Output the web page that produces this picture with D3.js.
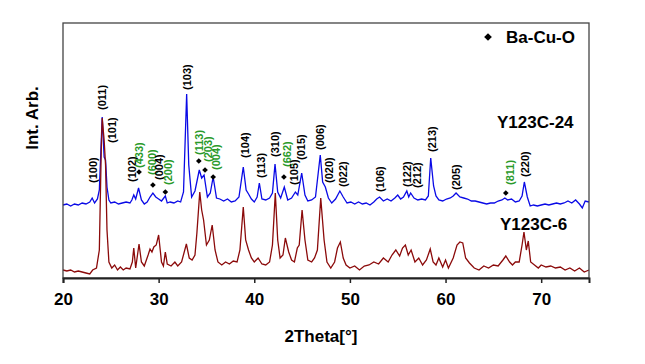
<!DOCTYPE html>
<html>
<head>
<meta charset="utf-8">
<script src="https://cdn.jsdelivr.net/npm/d3@7"></script>
<style>
  body { margin: 0; background: #fff; }
  text { font-family: Arial, "Liberation Sans", sans-serif; }
</style>
</head>
<body>
<script>
// digitized patterns: [2theta, intensity (arb.)]
var y123c24 = [
  [20.0,73],[20.4,74],[20.8,72],[21.2,74],[21.6,73],[22.0,75],[22.4,74],[22.8,76],[23.05,80],[23.3,75],
  [23.6,79],[23.8,88],[24.1,161],[24.3,121],[24.45,118],[24.6,91],[24.8,78],[25.0,75],[25.4,76],[25.8,74],
  [26.2,75],[26.6,76],[27.0,75],[27.2,78],[27.4,83],[27.6,79],[27.9,90],[28.2,78],[28.5,74],[28.8,76],
  [29.1,81],[29.4,85],[29.7,81],[30.0,79],[30.3,77],[30.7,82],[30.9,75],[31.2,76],[31.6,75],[32.0,77],
  [32.3,76],[32.6,86],[32.93,184],[33.15,113],[33.45,81],[33.8,87],[34.25,108],[34.5,100],[34.75,103],[35.1,81],
  [35.4,85],[35.7,101],[36.05,80],[36.4,79],[36.8,77],[37.2,79],[37.6,76],[38.0,77],[38.4,81],[38.85,111],
  [39.15,88],[39.4,84],[39.7,79],[40.0,76],[40.3,81],[40.53,95],[40.8,79],[41.2,78],[41.6,80],[41.9,85],
  [42.17,114],[42.45,86],[42.76,80],[43.14,91],[43.5,78],[43.9,80],[44.3,86],[44.55,83],[44.96,105],[45.3,83],
  [45.6,77],[46.0,78],[46.4,81],[46.9,123],[47.15,96],[47.43,91],[47.75,80],[48.1,75],[48.5,79],[48.95,87],
  [49.3,81],[49.7,75],[50.1,76],[50.5,74],[50.9,76],[51.3,74],[51.7,75],[52.1,73],[52.5,76],[52.8,79],
  [53.1,81],[53.5,77],[53.9,79],[54.3,77],[54.7,80],[55.0,83],[55.3,79],[55.6,81],[55.95,87],[56.15,81],
  [56.35,85],[56.7,80],[57.1,78],[57.5,79],[57.9,78],[58.2,82],[58.45,120],[58.75,92],[59.0,82],[59.3,78],
  [59.7,77],[60.1,79],[60.5,80],[60.8,82],[61.1,85],[61.5,81],[61.9,80],[62.3,79],[62.7,77],[63.1,77],
  [63.5,76],[63.9,75],[64.3,74],[64.7,75],[65.1,75],[65.5,77],[65.9,78],[66.2,80],[66.5,78],[66.9,79],
  [67.3,76],[67.7,77],[68.0,82],[68.24,96],[68.55,81],[68.85,72],[69.2,73],[69.6,72],[70.0,73],[70.4,74],
  [70.8,73],[71.2,74],[71.6,75],[72.0,74],[72.4,75],[72.8,77],[73.2,75],[73.6,78],[74.0,74],[74.3,70],
  [74.6,77],[75.0,76]
];

var y123c6 = [
  [20.0,8],[20.4,7],[20.8,8],[21.2,6],[21.6,7],[22.0,6],[22.4,5],[22.8,4],[23.1,8],[23.5,10],
  [23.8,28],[24.0,128],[24.1,160],[24.3,138],[24.45,113],[24.6,48],[24.8,16],[25.1,10],[25.4,13],[25.7,8],
  [26.0,11],[26.3,8],[26.6,10],[27.0,9],[27.25,16],[27.4,30],[27.6,10],[27.95,34],[28.2,16],[28.5,12],
  [28.9,23],[29.1,29],[29.3,26],[29.5,31],[29.75,33],[30.0,43],[30.3,16],[30.5,12],[30.7,26],[30.9,14],
  [31.3,12],[31.7,16],[32.0,12],[32.4,16],[32.9,34],[33.2,20],[33.5,18],[33.8,23],[34.0,45],[34.3,86],
  [34.5,68],[34.7,58],[35.0,33],[35.3,38],[35.6,53],[35.9,28],[36.2,16],[36.6,13],[37.0,16],[37.4,14],
  [37.8,17],[38.2,16],[38.5,28],[38.85,71],[39.1,38],[39.4,28],[39.7,20],[40.0,16],[40.4,20],[40.8,14],
  [41.2,13],[41.6,16],[41.9,33],[42.2,85],[42.45,38],[42.7,20],[43.0,23],[43.25,40],[43.6,26],[43.9,18],
  [44.2,16],[44.5,30],[44.7,33],[45.0,68],[45.3,38],[45.6,18],[46.0,16],[46.3,20],[46.6,28],[46.95,80],
  [47.3,38],[47.6,16],[48.0,10],[48.4,16],[48.7,30],[49.0,36],[49.3,20],[49.6,13],[50.0,10],[50.5,12],
  [51.0,8],[51.5,12],[52.0,13],[52.5,16],[53.0,14],[53.5,20],[54.0,16],[54.4,23],[54.8,28],[55.2,22],
  [55.5,30],[55.8,33],[56.1,23],[56.4,28],[56.8,16],[57.2,20],[57.6,13],[58.0,18],[58.4,29],[58.7,16],
  [59.0,13],[59.3,20],[59.7,11],[60.0,18],[60.3,10],[60.8,20],[61.2,33],[61.5,36],[61.8,35],[62.1,20],
  [62.5,15],[63.0,10],[63.5,8],[64.0,12],[64.5,10],[65.0,13],[65.5,12],[66.0,18],[66.3,22],[66.7,16],
  [67.0,13],[67.3,16],[67.7,16],[68.0,33],[68.2,46],[68.45,28],[68.65,37],[68.9,16],[69.3,13],[69.7,10],
  [70.0,13],[70.5,11],[71.0,12],[71.5,10],[72.0,11],[72.5,8],[73.0,10],[73.5,7],[74.0,10],[74.5,6],
  [75.0,8]
];

// reflection labels: [text, 2theta, intensity at foot of label, Ba-Cu-O phase]
var peakLabels = [
  ["(100)",23.1,95,false],["(011)",24.05,168,false],["(101)",25.1,135,false],["(102)",27.2,96,false],
  ["(433)",27.95,110,true],["(600)",29.3,103,true],["(004)",30.05,98,false],["(200)",31.0,93,true],
  ["(103)",32.95,188,false],["(113)",34.2,123,true],["(203)",35.15,116,true],["(004)",36.05,108,true],
  ["(104)",39.0,120,false],["(113)",40.7,100,false],["(310)",42.15,121,false],["(662)",43.4,111,true],
  ["(105)",44.15,93,false],["(015)",44.95,118,false],["(006)",46.9,128,false],["(020)",47.85,95,false],
  ["(022)",49.25,91,false],["(106)",53.15,86,false],["(122)",55.95,91,false],["(212)",57.0,90,false],
  ["(213)",58.65,126,false],["(205)",61.15,88,false],["(811)",66.75,93,true],["(220)",68.3,101,false]
];

// Ba-Cu-O markers: [2theta, intensity]
var bacuoMarks = [[27.95,106],[29.4,93],[30.7,86],[34.2,117],[34.85,108],[35.7,101],[43.1,101],[66.3,85]];

var xTicks = [20, 30, 40, 50, 60, 70];

var margin = {top: 23, right: 56, bottom: 86, left: 63},
    width = 645 - margin.left - margin.right,
    height = 364 - margin.top - margin.bottom;

var svg = d3.select("body").append("svg")
    .attr("width", 645)
    .attr("height", 364)
  .append("g")
    .attr("transform", "translate(" + margin.left + "," + margin.top + ")");

var x = d3.scaleLinear().domain([20, 75]).range([0, width]);
var y = d3.scaleLinear().domain([0, 255]).range([height, 0]);

var line = d3.line()
    .x(function(d) { return x(d[0]); })
    .y(function(d) { return y(d[1]); });

svg.append("path")
    .datum(y123c24)
    .attr("fill", "none")
    .attr("stroke", "#0a0ae6")
    .attr("stroke-width", 1.3)
    .attr("d", line);

svg.append("path")
    .datum(y123c6)
    .attr("fill", "none")
    .attr("stroke", "#8b0a0a")
    .attr("stroke-width", 1.3)
    .attr("d", line);

// frame
svg.append("rect")
    .attr("width", width)
    .attr("height", height)
    .attr("fill", "none")
    .attr("stroke", "#444")
    .attr("stroke-width", 1.3);

// x axis
var xAxis = svg.append("g")
    .attr("transform", "translate(0," + height + ")")
    .call(d3.axisBottom(x).tickValues(xTicks).tickSize(5).tickFormat(d3.format("d")));
xAxis.select(".domain").attr("stroke", "#222").attr("stroke-width", 2);
xAxis.selectAll("line").attr("stroke", "#222").attr("stroke-width", 1.5);
xAxis.selectAll("text")
    .attr("y", 27)
    .attr("dy", 0)
    .attr("fill", "#000")
    .style("font-size", "17px")
    .style("font-weight", "bold");

svg.append("text")
    .attr("x", width / 2 - 5)
    .attr("y", height + 64)
    .attr("text-anchor", "middle")
    .style("font-size", "17px")
    .style("font-weight", "bold")
    .text("2Theta[°]");

svg.append("text")
    .attr("transform", "translate(-25," + (118 - margin.top) + ") rotate(-90)")
    .attr("text-anchor", "middle")
    .style("font-size", "17px")
    .style("font-weight", "bold")
    .text("Int. Arb.");

// peak labels
svg.selectAll(".hkl")
    .data(peakLabels)
    .enter().append("text")
    .attr("class", "hkl")
    .attr("transform", function(d) { return "translate(" + x(d[1]) + "," + y(d[2]) + ") rotate(-90)"; })
    .attr("dy", "0.35em")
    .attr("fill", function(d) { return d[3] ? "#2a9a2a" : "#000"; })
    .style("font-size", "11px")
    .style("font-weight", "bold")
    .text(function(d) { return d[0]; });

var diamond = d3.symbol().type(d3.symbolSquare).size(16);
svg.selectAll(".mark")
    .data(bacuoMarks)
    .enter().append("path")
    .attr("class", "mark")
    .attr("d", diamond)
    .attr("transform", function(d) { return "translate(" + x(d[0]) + "," + y(d[1]) + ") rotate(45)"; })
    .attr("fill", "#000");

// legend
svg.append("path")
    .attr("d", d3.symbol().type(d3.symbolSquare).size(30))
    .attr("transform", "translate(" + (488 - margin.left) + "," + (37 - margin.top) + ") rotate(45)")
    .attr("fill", "#000");
svg.append("text")
    .attr("x", 506 - margin.left)
    .attr("y", 43 - margin.top)
    .style("font-size", "17px")
    .style("font-weight", "bold")
    .text("Ba-Cu-O");

svg.append("text")
    .attr("x", 497 - margin.left)
    .attr("y", 128 - margin.top)
    .style("font-size", "17px")
    .style("font-weight", "bold")
    .text("Y123C-24");

svg.append("text")
    .attr("x", 500 - margin.left)
    .attr("y", 230 - margin.top)
    .style("font-size", "17px")
    .style("font-weight", "bold")
    .text("Y123C-6");
</script>
</body>
</html>
